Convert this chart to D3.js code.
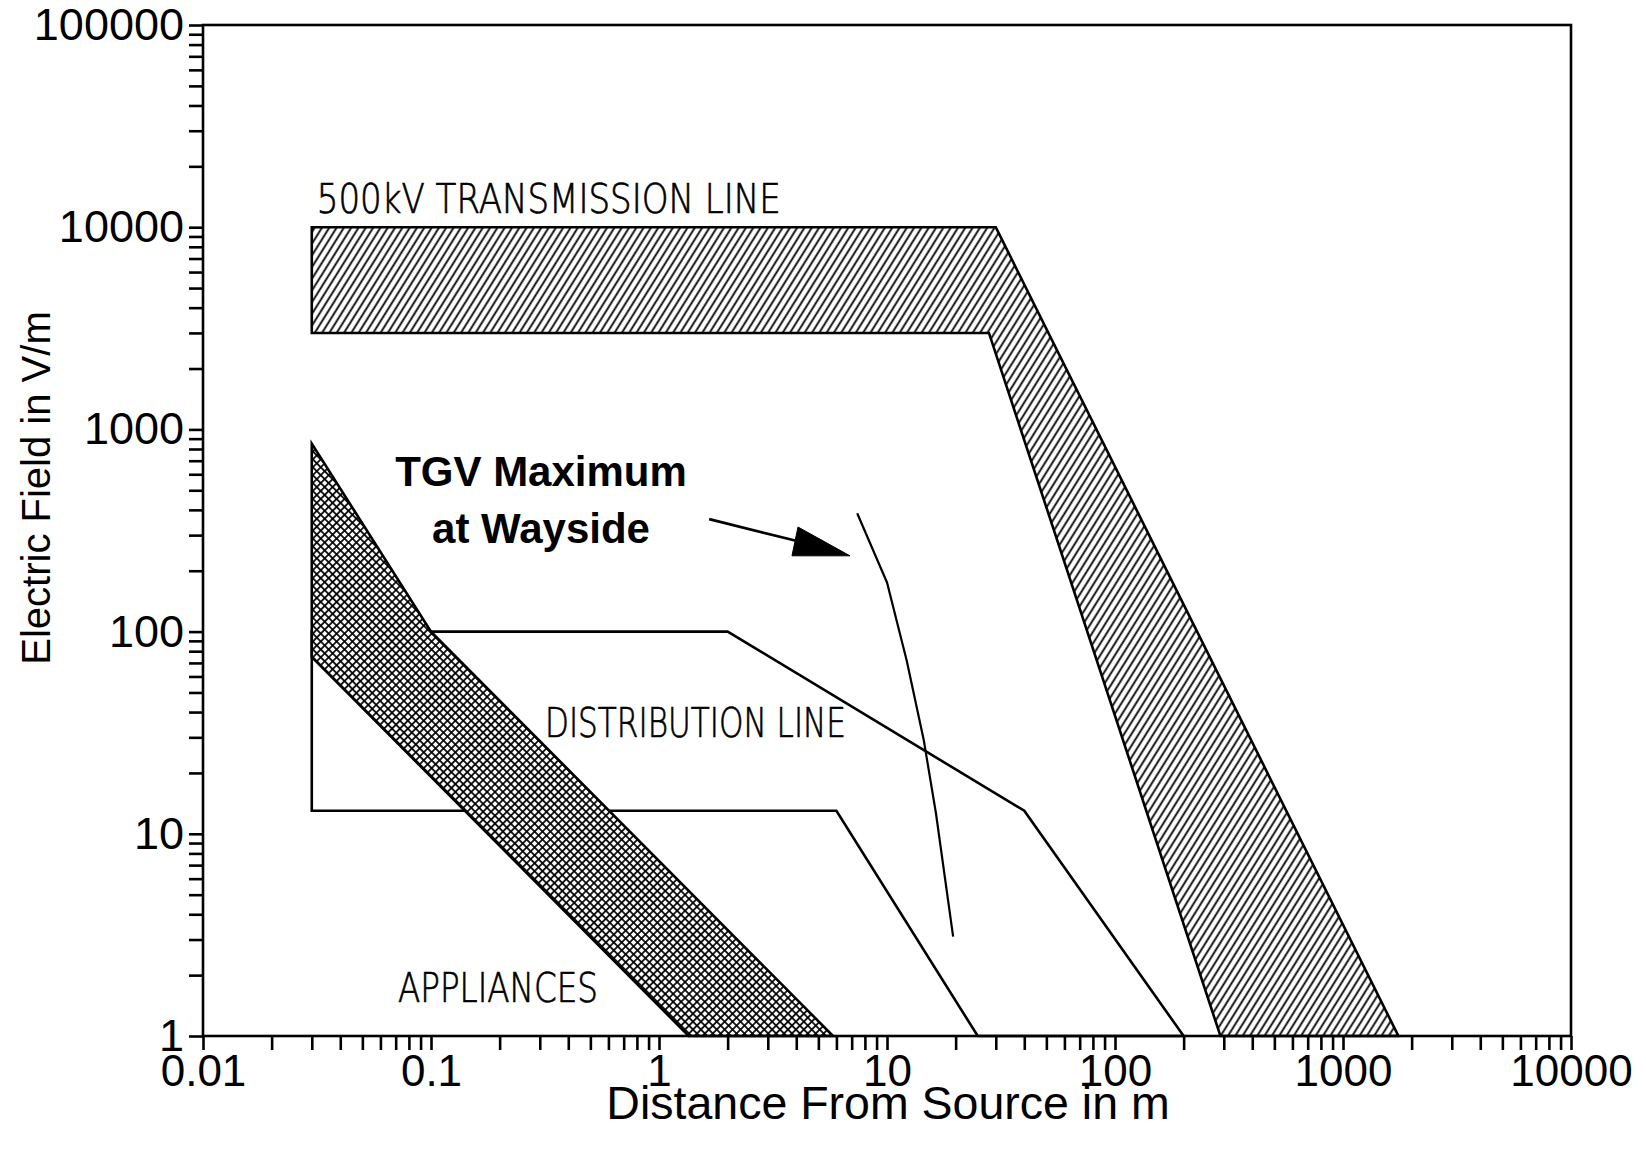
<!DOCTYPE html>
<html>
<head>
<meta charset="utf-8">
<script src="https://cdn.jsdelivr.net/npm/d3@7"></script>
<style>
  html, body { margin: 0; padding: 0; background: #fff; }
  svg { display: block; }
  .tick text { font-family: "Liberation Sans", Arial, Helvetica, sans-serif; fill: #000; }
</style>
</head>
<body>
<svg id="chart" width="1646" height="1149"></svg>
<script>
// Axis tick labels (decades)
const xTickLabels = ["0.01", "0.1", "1", "10", "100", "1000", "10000"];
const yTickLabels = ["1", "10", "100", "1000", "10000", "100000"];

// Field-strength bands: [distance in m, field in V/m]
const transmissionBand = [[0.03, 10000], [30, 10000], [1750, 1], [290, 1], [28, 3000], [0.03, 3000]];
const distributionBand = [[0.03, 100], [2, 100], [40, 13], [200, 1], [25, 1], [6, 13], [0.03, 13]];
const applianceBand = [[0.03, 850], [0.1, 100], [5.8, 1], [1.35, 1], [0.03, 75]];

// TGV wayside maximum profile
const tgvCurve = [[7.4, 385], [10, 175], [12.2, 72], [14.5, 29], [16.4, 12.6], [19.5, 3.1]];

// Annotation arrow pointing at the TGV profile
const arrowShaft = [[1.66, 360], [3.95, 282]];
const arrowHead = [[4.07, 329], [3.83, 237], [6.88, 237]];

const svg = d3.select("#chart");
const W = 1646, H = 1149;
const plot = { left: 203, right: 1571, top: 25, bottom: 1036 };

svg.append("rect").attr("width", W).attr("height", H).attr("fill", "#fff");

const x = d3.scaleLog().domain([0.01, 10000]).range([plot.left, plot.right]);
const y = d3.scaleLog().domain([1, 100000]).range([plot.bottom, plot.top]);

// Hatch patterns
const defs = svg.append("defs");
const diag = defs.append("pattern")
  .attr("id", "diagHatch")
  .attr("patternUnits", "userSpaceOnUse")
  .attr("width", 6.2).attr("height", 12)
  .attr("patternTransform", "rotate(32)");
diag.append("line")
  .attr("x1", 3.1).attr("y1", -1).attr("x2", 3.1).attr("y2", 13)
  .attr("stroke", "#000").attr("stroke-width", 1.8);

const cross = defs.append("pattern")
  .attr("id", "crossHatch")
  .attr("patternUnits", "userSpaceOnUse")
  .attr("width", 5.6).attr("height", 5.6)
  .attr("patternTransform", "rotate(45)");
cross.append("line")
  .attr("x1", 2.8).attr("y1", -1).attr("x2", 2.8).attr("y2", 6.6)
  .attr("stroke", "#000").attr("stroke-width", 1.7);
cross.append("line")
  .attr("x1", -1).attr("y1", 2.8).attr("x2", 6.6).attr("y2", 2.8)
  .attr("stroke", "#000").attr("stroke-width", 1.7);

const line = d3.line().x(d => x(d[0])).y(d => y(d[1]));
const closed = d => line(d) + "Z";

const g = svg.append("g");

// Distribution line band (outline only)
g.append("path")
  .attr("d", closed(distributionBand))
  .attr("fill", "none").attr("stroke", "#000").attr("stroke-width", 2.6)
  .attr("stroke-linejoin", "miter");

// 500 kV transmission line band
g.append("path")
  .attr("d", closed(transmissionBand))
  .attr("fill", "#fff");
g.append("path")
  .attr("d", closed(transmissionBand))
  .attr("fill", "url(#diagHatch)").attr("stroke", "#000").attr("stroke-width", 2.6)
  .attr("stroke-linejoin", "miter");

// Appliances band
g.append("path")
  .attr("d", closed(applianceBand))
  .attr("fill", "#fff");
g.append("path")
  .attr("d", closed(applianceBand))
  .attr("fill", "url(#crossHatch)").attr("stroke", "#000").attr("stroke-width", 2.6)
  .attr("stroke-linejoin", "miter");

// TGV profile
g.append("path")
  .attr("d", line(tgvCurve))
  .attr("fill", "none").attr("stroke", "#000").attr("stroke-width", 2.2);

// Arrow
g.append("path")
  .attr("d", line(arrowShaft))
  .attr("fill", "none").attr("stroke", "#000").attr("stroke-width", 2.6);
g.append("path")
  .attr("d", closed(arrowHead))
  .attr("fill", "#000").attr("stroke", "#000").attr("stroke-width", 1);

// Band labels
const cadFont = '"DejaVu Sans", "Liberation Sans", sans-serif';
function cadLabel(text, x0, base, len) {
  svg.append("text")
    .attr("x", x0).attr("y", base)
    .attr("font-family", cadFont)
    .attr("font-weight", 200)
    .attr("font-size", 40)
    .attr("textLength", len)
    .attr("lengthAdjust", "spacingAndGlyphs")
    .attr("fill", "#000")
    .attr("stroke", "#000")
    .attr("stroke-width", 0.7)
    .text(text);
}
cadLabel("500kV TRANSMISSION LINE", x(0.03) + 5, y(10000) - 14, 464);
cadLabel("DISTRIBUTION LINE", 545, 737, 301);
cadLabel("APPLIANCES", 398, 1002, 200);

const tgv = svg.append("text")
  .attr("font-family", '"Liberation Sans", Arial, Helvetica, sans-serif')
  .attr("font-weight", "bold")
  .attr("font-size", 42)
  .attr("text-anchor", "middle")
  .attr("fill", "#000");
tgv.append("tspan").attr("x", 541).attr("y", 486).text("TGV Maximum");
tgv.append("tspan").attr("x", 541).attr("y", 543).text("at Wayside");

// Axes
function decadeTicks(lo, hi) {
  const out = [];
  for (let e = lo; e < hi; e++) for (let m = 1; m < 10; m++) out.push(+(m * Math.pow(10, e)).toPrecision(6));
  out.push(Math.pow(10, hi));
  return out;
}
const isMajor = d => Math.abs(Math.log10(d) - Math.round(Math.log10(d))) < 1e-9;

const xAxis = d3.axisBottom(x)
  .tickValues(decadeTicks(-2, 4))
  .tickSize(14).tickSizeOuter(0).tickPadding(5)
  .tickFormat(d => isMajor(d) ? xTickLabels[Math.round(Math.log10(d)) + 2] : "");
const yAxis = d3.axisLeft(y)
  .tickValues(decadeTicks(0, 5))
  .tickSize(14).tickSizeOuter(0).tickPadding(5)
  .tickFormat(d => isMajor(d) ? yTickLabels[Math.round(Math.log10(d))] : "");

const gx = svg.append("g").attr("transform", `translate(0,${plot.bottom})`).call(xAxis);
const gy = svg.append("g").attr("transform", `translate(${plot.left},0)`).call(yAxis);
[gx, gy].forEach(a => {
  a.select(".domain").remove();
  a.selectAll(".tick line").attr("stroke", "#000").attr("stroke-width", 2.6);
});
gx.selectAll(".tick text").attr("font-size", 44);
gy.selectAll(".tick text").attr("font-size", 45);

// Plot frame
svg.append("rect")
  .attr("x", plot.left).attr("y", plot.top)
  .attr("width", plot.right - plot.left).attr("height", plot.bottom - plot.top)
  .attr("fill", "none").attr("stroke", "#000").attr("stroke-width", 2.6);

// Axis titles
svg.append("text")
  .attr("x", 888).attr("y", 1119)
  .attr("text-anchor", "middle")
  .attr("font-family", '"Liberation Sans", Arial, Helvetica, sans-serif')
  .attr("font-size", 46.5)
  .attr("fill", "#000")
  .text("Distance From Source in m");
svg.append("text")
  .attr("transform", "translate(50,488) rotate(-90)")
  .attr("text-anchor", "middle")
  .attr("font-family", '"Liberation Sans", Arial, Helvetica, sans-serif')
  .attr("font-size", 40)
  .attr("fill", "#000")
  .text("Electric Field in V/m");
</script>
</body>
</html>
